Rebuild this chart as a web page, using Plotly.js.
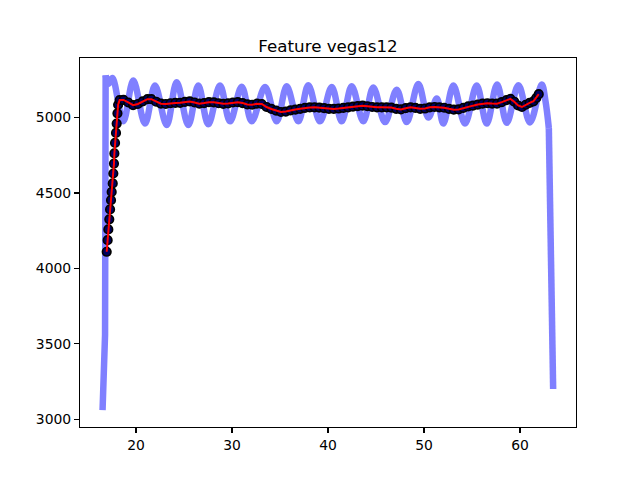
<!DOCTYPE html>
<html>
<head>
<meta charset="utf-8">
<script src="https://cdn.plot.ly/plotly-3.0.1.min.js"></script>
<style>
  html, body { margin: 0; padding: 0; background: #fff; }
  #graph { width: 640px; height: 480px; }
</style>
</head>
<body>
<div id="graph"></div>
<script>
// raw signal (thick light blue line)
// steep start
const rawStartX = [16.52, 16.78, 16.84];
const rawStartY = [3060, 3560, 5280];
// oscillating part: peaks / troughs
const rawX = [16.84, 17.15, 17.55,
    18.68, 19.72, 20.94, 21.98, 23.20, 24.24, 25.45, 26.49, 27.53, 28.75,
    29.80, 31.01, 32.06, 33.44, 34.66, 35.70, 36.91, 37.95, 39.17, 40.39,
    41.43, 42.47, 43.68, 44.72, 45.94, 47.16, 48.20, 49.41, 50.45, 51.33,
    52.01, 53.06, 54.27, 55.49, 56.53, 57.61, 58.62, 59.83, 61.04, 62.26,
    62.65, 63.00];
const rawY = [5280, 5225, 5262,
    4975, 5245, 4960, 5212, 4950, 5235, 4950, 5212, 4955, 5212,
    4975, 5205, 4975, 5203, 4975, 5207, 4975, 5214, 4975, 5203,
    4975, 5207, 4975, 5200, 4970, 5185, 4970, 5222, 5000, 5126,
    4960, 5212, 4960, 5212, 4960, 5220, 4965, 5214, 4968, 5220,
    5110, 4930];
// steep drop at the end
const rawEndX = [63.00, 63.45];
const rawEndY = [4930, 3200];

// sampled points (black dots) and the red line through them
const sampleX = [16.95, 17.05, 17.12, 17.22, 17.30, 17.40, 17.47, 17.58, 17.64, 17.71,
    17.75, 17.82, 17.92, 17.99, 18.07, 18.14,
    18.3, 18.7, 19.2, 19.7, 20.2, 20.7, 21.2, 21.6, 22.1, 22.6,
    23.1, 23.6, 24.1, 24.6, 25.1, 25.6, 26.1, 26.6, 27.1, 27.6,
    28.1, 28.6, 29.1, 29.6, 30.1, 30.6, 31.1, 31.6, 32.1, 32.6,
    33.1, 33.6, 34.1, 34.6, 35.1, 35.6, 36.1, 36.6, 37.1, 37.6,
    38.1, 38.6, 39.1, 39.6, 40.1, 40.6, 41.1, 41.6, 42.1, 42.6,
    43.1, 43.6, 44.1, 44.6, 45.1, 45.6, 46.1, 46.6, 47.1, 47.6,
    48.1, 48.6, 49.1, 49.6, 50.1, 50.6, 51.1, 51.6, 52.1, 52.6,
    53.1, 53.6, 54.1, 54.6, 55.1, 55.6, 56.1, 56.6, 57.1, 57.6,
    58.1, 58.6, 59.0, 59.4, 59.8, 60.2, 60.6, 61.0, 61.4, 61.7, 61.95];
const sampleY = [4110, 4187, 4258, 4325, 4391, 4452, 4507, 4563, 4629, 4695,
    4762, 4832, 4898, 4960, 5028, 5085,
    5116, 5117, 5100, 5082, 5090, 5108, 5122, 5122, 5105, 5092,
    5090, 5095, 5097, 5098, 5104, 5107, 5100, 5092, 5096, 5102,
    5101, 5095, 5091, 5094, 5100, 5102, 5096, 5087, 5085, 5092,
    5090, 5070, 5057, 5046, 5037, 5040, 5048, 5053, 5058, 5064,
    5067, 5068, 5066, 5062, 5058, 5057, 5060, 5064, 5068, 5072,
    5076, 5079, 5075, 5070, 5068, 5068, 5068, 5066, 5058, 5054,
    5062, 5068, 5064, 5058, 5060, 5068, 5070, 5068, 5065, 5058,
    5052, 5054, 5064, 5074, 5079, 5086, 5092, 5095, 5093, 5092,
    5102, 5116, 5124, 5105, 5080, 5070, 5085, 5097, 5108, 5130, 5155];

const xTicks = [20, 30, 40, 50, 60];
const yTicks = [3000, 3500, 4000, 4500, 5000];

const rawLine = { color: "#8080ff", width: 6.5 };
const rawStart = { x: rawStartX, y: rawStartY, mode: "lines", line: rawLine };
const rawMid = {
    x: rawX, y: rawY, mode: "lines",
    line: Object.assign({}, rawLine, { shape: "spline", smoothing: 1 })
};
const rawEnd = { x: rawEndX, y: rawEndY, mode: "lines", line: rawLine };
const dotTrace = {
    x: sampleX, y: sampleY, mode: "markers",
    marker: { size: 8.5, color: "#000060", line: { color: "#000000", width: 1.7 } }
};
const fitTrace = {
    x: sampleX, y: sampleY, mode: "lines",
    line: { color: "#ff0000", width: 2 }
};

const axisStyle = {
    showline: true, mirror: true, linecolor: "#000", linewidth: 1.1,
    ticks: "outside", ticklen: 4.9, tickwidth: 1.1, tickcolor: "#000",
    showgrid: false, zeroline: false,
    tickfont: { family: "DejaVu Sans", size: 13.9, color: "#000" }
};

Plotly.newPlot("graph", [rawStart, rawMid, rawEnd, dotTrace, fitTrace], {
    width: 640, height: 480,
    margin: { l: 80, r: 64, t: 57.6, b: 52.8 },
    paper_bgcolor: "#fff", plot_bgcolor: "#fff",
    showlegend: false,
    font: { family: "DejaVu Sans", color: "#000" },
    title: {
        text: "Feature vegas12",
        font: { family: "DejaVu Sans", size: 16.7, color: "#000" },
        x: 0.5, xref: "paper", xanchor: "center",
        y: 1, yref: "paper", yanchor: "bottom",
        pad: { b: 6 }
    },
    xaxis: Object.assign({}, axisStyle, { range: [14.17, 65.83], tickvals: xTicks }),
    yaxis: Object.assign({}, axisStyle, { range: [2948, 5395], tickvals: yTicks })
}, { staticPlot: true });
</script>
</body>
</html>
